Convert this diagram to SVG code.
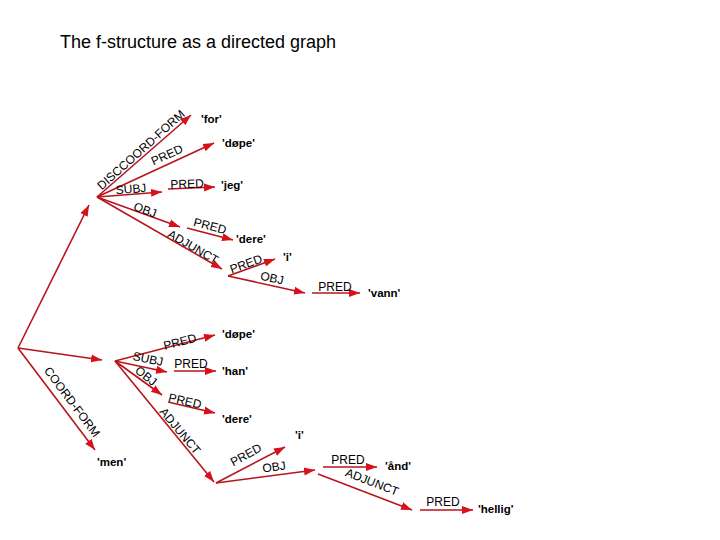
<svg xmlns="http://www.w3.org/2000/svg" width="720" height="540" viewBox="0 0 720 540">
<style>
.e{stroke:#b8141c;stroke-width:1.6;fill:none;marker-end:url(#ah)}
.l{font-family:"Liberation Sans",Arial,sans-serif;font-size:12px;fill:#000;text-anchor:middle}
.v{font-family:"Liberation Sans",Arial,sans-serif;font-size:11.5px;font-weight:bold;fill:#000}
.t{font-family:"Liberation Sans",Arial,sans-serif;font-size:18px;fill:#000}
</style>
<defs>
<marker id="ah" markerUnits="userSpaceOnUse" markerWidth="12" markerHeight="10" viewBox="0 0 12 10" refX="11" refY="5" orient="auto">
<path d="M0,1 L11,5 L0,9 Z" fill="#d8101a"/>
</marker>
</defs>
<rect width="720" height="540" fill="#fff"/>
<text class="t" x="60" y="48">The f-structure as a directed graph</text>
<g id="connectors">
<line class="e" x1="18" y1="348" x2="89" y2="205"/>
<line class="e" x1="18" y1="348" x2="102" y2="360"/>
<line class="e" x1="18" y1="348" x2="95" y2="450"/>
<line class="e" x1="97" y1="197" x2="191" y2="115"/>
<line class="e" x1="97" y1="197" x2="214" y2="143"/>
<line class="e" x1="97" y1="197" x2="162" y2="192"/>
<line class="e" x1="168" y1="189" x2="215" y2="187"/>
<line class="e" x1="97" y1="197" x2="180" y2="227"/>
<line class="e" x1="187" y1="228" x2="233" y2="240"/>
<line class="e" x1="97" y1="197" x2="222" y2="269"/>
<line class="e" x1="228" y1="276" x2="275" y2="259"/>
<line class="e" x1="228" y1="276" x2="305" y2="293"/>
<line class="e" x1="312" y1="293" x2="360" y2="293"/>
<line class="e" x1="115" y1="361" x2="215" y2="335"/>
<line class="e" x1="115" y1="361" x2="167" y2="372"/>
<line class="e" x1="174" y1="371" x2="216" y2="371"/>
<line class="e" x1="115" y1="361" x2="162" y2="395"/>
<line class="e" x1="168" y1="402" x2="215" y2="413"/>
<line class="e" x1="115" y1="361" x2="214" y2="482"/>
<line class="e" x1="216" y1="483" x2="285" y2="447"/>
<line class="e" x1="216" y1="483" x2="315" y2="470"/>
<line class="e" x1="323" y1="467" x2="377" y2="467"/>
<line class="e" x1="318" y1="474" x2="412" y2="510"/>
<line class="e" x1="420" y1="510" x2="473" y2="510"/>
</g>
<g id="labels">
<text class="l" transform="translate(141,150) rotate(-41.8)" y="4">DISCCOORD-FORM</text>
<text class="l" transform="translate(167,155) rotate(-24.8)" y="4">PRED</text>
<text class="l" transform="translate(131,189) rotate(-4.4)" y="4">SUBJ</text>
<text class="l" transform="translate(187,184) rotate(-2)" y="4">PRED</text>
<text class="l" transform="translate(145,210) rotate(20)" y="4">OBJ</text>
<text class="l" transform="translate(210,226) rotate(14.6)" y="4">PRED</text>
<text class="l" transform="translate(193,247) rotate(30)" y="4">ADJUNCT</text>
<text class="l" transform="translate(246,264) rotate(-20)" y="4">PRED</text>
<text class="l" transform="translate(272,278) rotate(12.5)" y="4">OBJ</text>
<text class="l" transform="translate(335,287)" y="4">PRED</text>
<text class="l" transform="translate(180,342) rotate(-14.6)" y="4">PRED</text>
<text class="l" transform="translate(148,359) rotate(12)" y="4">SUBJ</text>
<text class="l" transform="translate(191,364)" y="4">PRED</text>
<text class="l" transform="translate(146,376) rotate(38)" y="4">OBJ</text>
<text class="l" transform="translate(185,401) rotate(13)" y="4">PRED</text>
<text class="l" transform="translate(180,431) rotate(50)" y="4">ADJUNCT</text>
<text class="l" transform="translate(246,455) rotate(-29)" y="4">PRED</text>
<text class="l" transform="translate(274,467) rotate(-7.8)" y="4">OBJ</text>
<text class="l" transform="translate(348,460)" y="4">PRED</text>
<text class="l" transform="translate(372,482) rotate(21)" y="4">ADJUNCT</text>
<text class="l" transform="translate(443,502)" y="4">PRED</text>
<text class="l" transform="translate(72,402) rotate(53)" y="4">COORD-FORM</text>
</g>
<g id="n-for"><text class="v" x="201" y="123">'for'</text></g>
<g id="n-dope1"><text class="v" x="222" y="147">'døpe'</text></g>
<g id="n-jeg"><text class="v" x="221" y="189">'jeg'</text></g>
<g id="n-dere1"><text class="v" x="236" y="243">'dere'</text></g>
<g id="n-i1"><text class="v" x="283" y="261">'i'</text></g>
<g id="n-vann"><text class="v" x="368" y="297">'vann'</text></g>
<g id="n-dope2"><text class="v" x="222" y="338">'døpe'</text></g>
<g id="n-han"><text class="v" x="222" y="375">'han'</text></g>
<g id="n-dere2"><text class="v" x="222" y="423">'dere'</text></g>
<g id="n-i2"><text class="v" x="295" y="439">'i'</text></g>
<g id="n-and"><text class="v" x="385" y="470">'ånd'</text></g>
<g id="n-hellig"><text class="v" x="478" y="513">'hellig'</text></g>
<g id="n-men"><text class="v" x="97" y="466">'men'</text></g>
</svg>
